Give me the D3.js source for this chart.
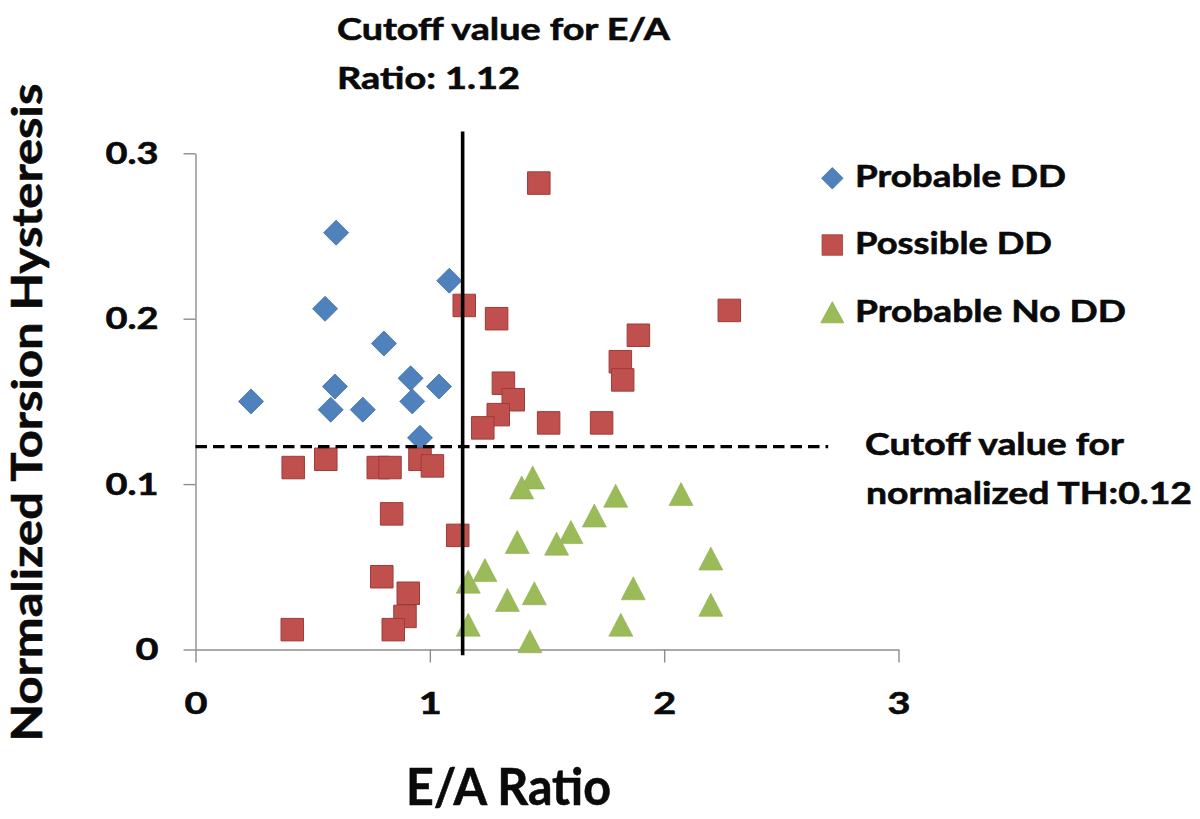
<!DOCTYPE html>
<html>
<head>
<meta charset="utf-8">
<script src="https://cdn.jsdelivr.net/npm/d3@7/dist/d3.min.js"></script>
<style>
  html, body { margin: 0; padding: 0; background: #ffffff; }
  svg { display: block; }
  text { font-family: Lato, "Open Sans", sans-serif; font-weight: 700; fill: #0a0a0a; stroke: #0a0a0a; stroke-width: 0.6px; }
</style>
</head>
<body>
<svg id="chart" width="1200" height="819"></svg>
<script>
// ---------------- data ----------------
const seriesNames = ["Probable DD", "Possible DD", "Probable No DD"];

const probableDD_x = [0.600, 1.083, 0.553, 0.804, 0.918, 1.039, 0.595, 0.237, 0.925, 0.577, 0.714, 0.958];
const probableDD_y = [0.252, 0.223, 0.206, 0.185, 0.164, 0.159, 0.159, 0.150, 0.150, 0.145, 0.145, 0.128];

const possibleDD_x = [1.465, 1.147, 1.285, 2.278, 1.890, 1.813, 1.823, 1.314, 1.356, 1.292, 1.507, 1.733, 1.226,
                      0.417, 0.556, 0.780, 0.830, 0.958, 1.011, 0.837, 1.119, 0.795, 0.908, 0.894, 0.844, 0.413];
const possibleDD_y = [0.282, 0.208, 0.200, 0.205, 0.190, 0.174, 0.163, 0.161, 0.151, 0.142, 0.137, 0.137, 0.134,
                      0.110, 0.115, 0.110, 0.110, 0.115, 0.111, 0.082, 0.069, 0.044, 0.034, 0.020, 0.012, 0.012];

const probableNoDD_x = [1.439, 1.392, 1.793, 2.072, 1.702, 1.602, 1.541, 1.373, 2.199, 1.235, 1.164, 1.868,
                        1.446, 1.331, 2.199, 1.164, 1.815, 1.427];
const probableNoDD_y = [0.104, 0.098, 0.093, 0.094, 0.081, 0.071, 0.064, 0.065, 0.055, 0.048, 0.041, 0.037,
                        0.034, 0.030, 0.027, 0.015, 0.015, 0.005];

const xTicks = [0, 1, 2, 3];
const xTickLabels = ["0", "1", "2", "3"];
const yTicks = [0, 0.1, 0.2, 0.3];
const yTickLabels = ["0", "0.1", "0.2", "0.3"];

// annotation reference lines (data units)
const eaCutoffLineX = 1.14;            // drawn position of E/A cutoff line
const eaCutoffLineY = [-0.0035, 0.3132];
const thCutoffLineY = 0.1227;          // drawn position of TH cutoff line
const thCutoffLineX = [0, 2.70];

const xAxisTitle = "E/A Ratio";
const yAxisTitle = "Normalized Torsion Hysteresis";
const eaNote = ["Cutoff value for E/A", "Ratio: 1.12"];
const thNote = ["Cutoff value for", "normalized TH:0.12"];

// ---------------- layout ----------------
const svg = d3.select("#chart");
const x = d3.scaleLinear().domain([0, 3]).range([195.5, 898.5]);
const y = d3.scaleLinear().domain([0, 0.3]).range([649.5, 153.3]);

const colors = { blue: "#4f81bd", red: "#c0504d", green: "#9bbb59" };

function diamondPath(s) { const h = s / 2; return `M0,${-h}L${h},0L0,${h}L${-h},0Z`; }
function squarePath(s) { const h = s / 2; return `M${-h},${-h}H${h}V${h}H${-h}Z`; }
function trianglePath(w, hgt) { return `M0,${-hgt / 2}L${w / 2},${hgt / 2}L${-w / 2},${hgt / 2}Z`; }

function fitText(sel, len) {
  sel.attr("textLength", len).attr("lengthAdjust", "spacingAndGlyphs");
}

// ---------------- axes ----------------
const axisColor = "#8c8c8c";
const yAxis = svg.append("g").attr("transform", `translate(${x(0)},0)`)
  .call(d3.axisLeft(y).tickValues(yTicks).tickFormat((d, i) => yTickLabels[i])
    .tickSize(12).tickSizeOuter(0).tickPadding(25));
yAxis.select(".domain").attr("stroke", axisColor).attr("stroke-width", 1.4);
yAxis.selectAll(".tick line").attr("stroke", axisColor).attr("stroke-width", 1.4);
yAxis.selectAll(".tick text")
  .attr("font-family", "Lato, 'Open Sans', sans-serif").attr("font-weight", 700)
  .attr("font-size", 31).attr("fill", "#0a0a0a").attr("dy", "0.33em")
  .each(function (d, i) { fitText(d3.select(this), yTickLabels[i].length > 1 ? 53 : 23); });

const xAxis = svg.append("g").attr("transform", `translate(0,${y(0)})`)
  .call(d3.axisBottom(x).tickValues(xTicks).tickFormat((d, i) => xTickLabels[i])
    .tickSize(13).tickSizeOuter(0));
xAxis.select(".domain").attr("stroke", axisColor).attr("stroke-width", 1.4);
xAxis.selectAll(".tick line").attr("stroke", axisColor).attr("stroke-width", 1.4);
xAxis.selectAll(".tick text")
  .attr("font-family", "Lato, 'Open Sans', sans-serif").attr("font-weight", 700)
  .attr("font-size", 31).attr("fill", "#0a0a0a").attr("y", 64).attr("dy", 0)
  .each(function () { fitText(d3.select(this), 23); });

// ---------------- markers ----------------
const plot = svg.append("g");

const diamonds = probableDD_x.map((v, i) => ({ x: v, y: probableDD_y[i] }));
const squares = possibleDD_x.map((v, i) => ({ x: v, y: possibleDD_y[i] }));
const triangles = probableNoDD_x.map((v, i) => ({ x: v, y: probableNoDD_y[i] }));

plot.append("g").selectAll("path").data(diamonds).join("path")
  .attr("d", diamondPath(25))
  .attr("transform", d => `translate(${x(d.x)},${y(d.y)})`)
  .attr("fill", colors.blue).attr("stroke", "#3d6da6").attr("stroke-width", 0.8);

plot.append("g").selectAll("path").data(squares).join("path")
  .attr("d", squarePath(22.5))
  .attr("transform", d => `translate(${x(d.x)},${y(d.y)})`)
  .attr("fill", colors.red).attr("stroke", "#9e3b38").attr("stroke-width", 1);

plot.append("g").selectAll("path").data(triangles).join("path")
  .attr("d", trianglePath(24, 23))
  .attr("transform", d => `translate(${x(d.x)},${y(d.y)})`)
  .attr("fill", colors.green).attr("stroke", "#8fad50").attr("stroke-width", 0.6);

// ---------------- reference lines ----------------
svg.append("line")
  .attr("x1", x(eaCutoffLineX)).attr("x2", x(eaCutoffLineX))
  .attr("y1", y(eaCutoffLineY[1])).attr("y2", y(eaCutoffLineY[0]))
  .attr("stroke", "#000").attr("stroke-width", 3.6);

svg.append("line")
  .attr("x1", x(thCutoffLineX[0])).attr("x2", x(thCutoffLineX[1]))
  .attr("y1", y(thCutoffLineY)).attr("y2", y(thCutoffLineY))
  .attr("stroke", "#000").attr("stroke-width", 3.2).attr("stroke-dasharray", "11.5,6");

// ---------------- annotations ----------------
fitText(svg.append("text").attr("x", 337).attr("y", 40).attr("font-size", 30).text(eaNote[0]), 333);
fitText(svg.append("text").attr("x", 337).attr("y", 88.5).attr("font-size", 30).text(eaNote[1]), 183);

fitText(svg.append("text").attr("x", 865).attr("y", 455).attr("font-size", 31).text(thNote[0]), 259);
fitText(svg.append("text").attr("x", 866).attr("y", 503.5).attr("font-size", 31).text(thNote[1]), 326);

// axis titles
fitText(svg.append("text").attr("x", 406).attr("y", 805).attr("font-size", 51).text(xAxisTitle), 205);
fitText(svg.append("text")
  .attr("transform", "translate(42,412.5) rotate(-90)")
  .attr("text-anchor", "middle").attr("font-size", 42).text(yAxisTitle), 658);

// ---------------- legend ----------------
const legendItems = [
  { name: seriesNames[0], path: diamondPath(21.5), fill: colors.blue, stroke: "#3d6da6", cy: 178.3, baseline: 187.3, len: 211 },
  { name: seriesNames[1], path: squarePath(20.5), fill: colors.red, stroke: "#9e3b38", cy: 245, baseline: 254, len: 197 },
  { name: seriesNames[2], path: trianglePath(23, 21), fill: colors.green, stroke: "#8fad50", cy: 312.3, baseline: 321.7, len: 271 }
];
const legend = svg.append("g");
legendItems.forEach(it => {
  legend.append("path").attr("d", it.path).attr("transform", `translate(832.3,${it.cy})`)
    .attr("fill", it.fill).attr("stroke", it.stroke).attr("stroke-width", 0.8);
  fitText(legend.append("text").attr("x", 855).attr("y", it.baseline).attr("font-size", 31).text(it.name), it.len);
});
</script>
</body>
</html>
